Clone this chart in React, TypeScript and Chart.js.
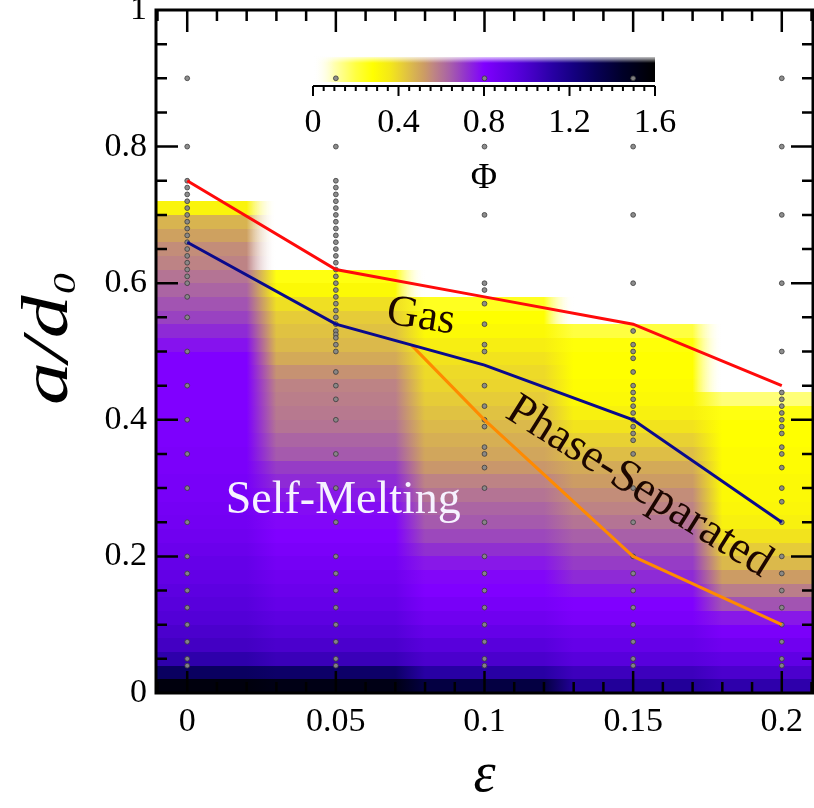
import React, { useEffect, useRef } from 'react';
import { Chart, registerables } from 'chart.js';

Chart.register(...registerables);

// ---------------- data ----------------
const epsCols = [0, 0.05, 0.1, 0.15, 0.2];
const aEdges = [0, 0.02, 0.04, 0.06, 0.08, 0.1, 0.12, 0.14, 0.16, 0.18, 0.2, 0.22, 0.24, 0.26, 0.28, 0.3, 0.32, 0.34, 0.36, 0.38, 0.4, 0.42, 0.44, 0.46, 0.48, 0.5, 0.52, 0.54, 0.56, 0.58, 0.6, 0.62, 0.64, 0.66, 0.68, 0.7, 0.72];

// Phi per row (bottom -> top), null = no data
const phiEps000 = [1.55, 1.3, 1.1, 1.03, 1.0, 0.97, 0.95, 0.93, 0.91, 0.9, 0.88, 0.86, 0.85, 0.84, 0.83, 0.83, 0.82, 0.82, 0.81, 0.81, 0.8, 0.8, 0.8, 0.8, 0.8, 0.77, 0.73, 0.69, 0.66, 0.63, 0.6, 0.57, 0.55, 0.51, 0.47, 0.32];
const phiEps005 = [1.52, 1.28, 1.06, 1.0, 0.96, 0.93, 0.9, 0.88, 0.86, 0.84, 0.82, 0.8, 0.79, 0.78, 0.76, 0.73, 0.7, 0.65, 0.63, 0.6, 0.59, 0.58, 0.57, 0.54, 0.49, 0.46, 0.44, 0.42, 0.38, 0.3, 0.26, null, null, null, null, null];
const phiEps010 = [1.38, 1.12, 1.0, 0.95, 0.9, 0.86, 0.83, 0.8, 0.79, 0.76, 0.72, 0.68, 0.65, 0.63, 0.6, 0.57, 0.53, 0.5, 0.48, 0.46, 0.44, 0.42, 0.4, 0.39, 0.37, 0.34, 0.3, 0.28, 0.24, null, null, null, null, null, null, null];
const phiEps015 = [1.15, 1.05, 0.95, 0.9, 0.87, 0.82, 0.8, 0.77, 0.73, 0.7, 0.67, 0.64, 0.6, 0.57, 0.55, 0.52, 0.49, 0.45, 0.41, 0.37, 0.33, 0.3, 0.29, 0.28, 0.28, 0.27, 0.2, null, null, null, null, null, null, null, null, null];
const phiEps020 = [1.1, 1.0, 0.92, 0.86, 0.82, 0.76, 0.66, 0.58, 0.52, 0.46, 0.42, 0.37, 0.33, 0.31, 0.3, 0.3, 0.29, 0.29, 0.28, 0.28, 0.26, 0.15, null, null, null, null, null, null, null, null, null, null, null, null, null, null];
const phiCols = [phiEps000, phiEps005, phiEps010, phiEps015, phiEps020];

// sampled state points (gray dots), a/d0 per column
const dotsEps000 = [0.9, 0.8, 0.75, 0.74, 0.73, 0.72, 0.71, 0.7, 0.69, 0.68, 0.67, 0.66, 0.65, 0.64, 0.63, 0.62, 0.61, 0.6, 0.58, 0.55, 0.5, 0.45, 0.4, 0.35, 0.3, 0.25, 0.2, 0.175, 0.15, 0.125, 0.1, 0.075, 0.05, 0.04];
const dotsEps005 = [0.9, 0.8, 0.75, 0.74, 0.73, 0.72, 0.71, 0.7, 0.69, 0.68, 0.67, 0.66, 0.65, 0.64, 0.63, 0.62, 0.61, 0.6, 0.59, 0.58, 0.57, 0.56, 0.55, 0.54, 0.53, 0.525, 0.52, 0.51, 0.5, 0.47, 0.45, 0.43, 0.4, 0.35, 0.3, 0.25, 0.2, 0.175, 0.15, 0.125, 0.1, 0.075, 0.05, 0.04];
const dotsEps010 = [0.9, 0.8, 0.7, 0.6, 0.59, 0.57, 0.54, 0.51, 0.5, 0.45, 0.42, 0.4, 0.39, 0.36, 0.35, 0.33, 0.3, 0.25, 0.2, 0.175, 0.15, 0.125, 0.1, 0.075, 0.05, 0.04];
const dotsEps015 = [0.9, 0.8, 0.7, 0.6, 0.53, 0.51, 0.5, 0.49, 0.47, 0.45, 0.44, 0.43, 0.42, 0.41, 0.4, 0.39, 0.38, 0.37, 0.35, 0.3, 0.25, 0.2, 0.175, 0.15, 0.125, 0.1, 0.075, 0.05, 0.04];
const dotsEps020 = [0.9, 0.8, 0.7, 0.6, 0.5, 0.44, 0.43, 0.42, 0.41, 0.4, 0.39, 0.38, 0.36, 0.35, 0.33, 0.3, 0.28, 0.25, 0.2, 0.175, 0.15, 0.125, 0.1, 0.075, 0.05, 0.04];
const dotCols = [dotsEps000, dotsEps005, dotsEps010, dotsEps015, dotsEps020];

// boundary lines
const lineEps = [0, 0.05, 0.1, 0.15, 0.2];
const redLine = [0.75, 0.62, 0.58, 0.54, 0.45];
const blueLine = [0.66, 0.54, 0.48, 0.4, 0.25];
const orangeEps = [0.0755, 0.1, 0.15, 0.2];
const orangeLine = [0.509, 0.4, 0.2, 0.1];

// annotations
const annoText = ['Gas', 'Phase-Separated', 'Self-Melting'];
const annoEps = [0.0786, 0.152, 0.0525];
const annoA = [0.5505, 0.3016, 0.281];

// ticks
const xTickVals = [0, 0.05, 0.1, 0.15, 0.2];
const yTickVals = [0, 0.2, 0.4, 0.6, 0.8, 1];
const cbTickVals = [0, 0.4, 0.8, 1.2, 1.6];

// colormap
const cmapVals = [0, 0.1, 0.2, 0.28, 0.36, 0.42, 0.47, 0.52, 0.56, 0.6, 0.64, 0.68, 0.72, 0.76, 0.8, 0.86, 0.92, 0.98, 1.04, 1.12, 1.22, 1.32, 1.45, 1.6];
const cmapRGBA = [
  [255, 255, 255, 0], [255, 255, 176, 1], [255, 255, 64, 1], [255, 255, 0, 1], [244, 232, 24, 1],
  [230, 204, 56, 1], [216, 180, 80, 1], [204, 156, 100, 1], [192, 136, 128, 1], [180, 116, 148, 1],
  [168, 96, 168, 1], [156, 72, 188, 1], [144, 48, 208, 1], [136, 24, 232, 1], [128, 0, 255, 1],
  [112, 0, 240, 1], [96, 0, 228, 1], [80, 0, 212, 1], [64, 0, 192, 1], [40, 0, 164, 1],
  [20, 0, 128, 1], [8, 0, 88, 1], [0, 0, 40, 1], [0, 0, 0, 1],
];

// ---------------- helpers ----------------
const FONT = "'Liberation Serif', 'Times New Roman', serif";
const rgba = (c: number[]) => `rgba(${Math.round(c[0])},${Math.round(c[1])},${Math.round(c[2])},${c[3]})`;
function cmap(v: number): number[] {
  if (v <= cmapVals[0]) return cmapRGBA[0];
  for (let i = 0; i < cmapVals.length - 1; i++) {
    if (v <= cmapVals[i + 1]) {
      const t = (v - cmapVals[i]) / (cmapVals[i + 1] - cmapVals[i]);
      const a = cmapRGBA[i], b = cmapRGBA[i + 1];
      return a.map((q, k) => q + (b[k] - q) * t);
    }
  }
  return cmapRGBA[cmapRGBA.length - 1];
}
const clamp01 = (v: number) => Math.max(0, Math.min(1, v));
const noPad = (s: any) => { s.paddingTop = 0; s.paddingBottom = 0; s.paddingLeft = 0; s.paddingRight = 0; };

const heatmapPlugin = {
  id: 'heatmap',
  beforeDatasetsDraw(chart: any) {
    const { ctx, chartArea: ca, scales } = chart;
    const x = scales.x, y = scales.y;
    const half = 0.025, blend = 0.005;
    ctx.save();
    ctx.beginPath();
    ctx.rect(ca.left, ca.top, ca.width, ca.height);
    ctx.clip();
    for (let r = 0; r < aEdges.length - 1; r++) {
      const yTop = Math.round(y.getPixelForValue(aEdges[r + 1]));
      const yBot = Math.round(y.getPixelForValue(aEdges[r]));
      const g = ctx.createLinearGradient(ca.left, 0, ca.right, 0);
      epsCols.forEach((e, i) => {
        const v = phiCols[i][r];
        const col = v == null ? 'rgba(255,255,255,0)' : rgba(cmap(v));
        const xs = i === 0 ? ca.left : x.getPixelForValue(e - half + blend);
        const xe = i === epsCols.length - 1 ? ca.right : x.getPixelForValue(e + half - blend);
        g.addColorStop(clamp01((xs - ca.left) / ca.width), col);
        g.addColorStop(clamp01((xe - ca.left) / ca.width), col);
      });
      ctx.fillStyle = g;
      ctx.fillRect(ca.left, yTop, ca.width, yBot - yTop);
    }
    ctx.restore();
  },
};

const annoPlugin = {
  id: 'anno',
  afterDatasetsDraw(chart: any) {
    const { ctx, scales } = chart;
    const styles = [
      { size: 44, angle: 9, color: '#1c0600' },
      { size: 46, angle: 32, color: '#1c0600' },
      { size: 46, angle: 0, color: '#f6f2ff' },
    ];
    annoText.forEach((t, i) => {
      const s = styles[i];
      ctx.save();
      ctx.translate(scales.x.getPixelForValue(annoEps[i]), scales.y.getPixelForValue(annoA[i]));
      ctx.rotate((s.angle * Math.PI) / 180);
      ctx.font = `${s.size}px ${FONT}`;
      ctx.fillStyle = s.color;
      ctx.textAlign = 'center';
      ctx.textBaseline = 'middle';
      ctx.fillText(t, 0, 0);
      ctx.restore();
    });
  },
};

const framePlugin = {
  id: 'frame',
  afterDraw(chart: any) {
    const { ctx, chartArea: ca, scales } = chart;
    const x = scales.x, y = scales.y;
    ctx.save();
    ctx.strokeStyle = '#000';
    ctx.lineWidth = 2.5;
    ctx.beginPath();
    for (let k = -1; k <= 21; k++) {
      const px = x.getPixelForValue(k * 0.01);
      if (px <= ca.left + 1 || px >= ca.right - 1) continue;
      const len = k % 5 === 0 ? 22 : 11;
      ctx.moveTo(px, ca.bottom); ctx.lineTo(px, ca.bottom - len);
      ctx.moveTo(px, ca.top); ctx.lineTo(px, ca.top + len);
    }
    for (let k = 1; k < 20; k++) {
      const py = y.getPixelForValue(k * 0.05);
      const len = k % 4 === 0 ? 22 : 11;
      ctx.moveTo(ca.left, py); ctx.lineTo(ca.left + len, py);
      ctx.moveTo(ca.right, py); ctx.lineTo(ca.right - len, py);
    }
    ctx.stroke();
    ctx.lineWidth = 3;
    ctx.strokeRect(ca.left, ca.top, ca.width, ca.height);

    // axis titles
    ctx.fillStyle = '#000';
    ctx.save();
    ctx.translate(ca.left - 89, ca.top + 395);
    ctx.rotate(-Math.PI / 2);
    ctx.scale(1.3, 1);
    ctx.textAlign = 'left';
    ctx.textBaseline = 'alphabetic';
    ctx.font = `italic 66px ${FONT}`;
    ctx.fillText('a/d', 0, 0);
    const w = ctx.measureText('a/d').width;
    ctx.font = `italic 32px ${FONT}`;
    ctx.fillText('0', w + 1, 8);
    ctx.restore();

    ctx.font = `italic 56px ${FONT}`;
    ctx.textAlign = 'center';
    ctx.textBaseline = 'alphabetic';
    ctx.fillText('ε', (ca.left + ca.right) / 2, ca.bottom + 98);
    ctx.restore();
  },
};

const colorbarPlugin = {
  id: 'cbar',
  afterDraw(chart: any) {
    const { ctx, chartArea: ca, scales } = chart;
    const x = scales.x;
    const barTop = ca.top, barBot = ca.bottom - 4;
    const g = ctx.createLinearGradient(ca.left, 0, ca.right, 0);
    cmapVals.forEach((v, i) => g.addColorStop(clamp01((x.getPixelForValue(v) - ca.left) / ca.width), rgba(cmapRGBA[i])));
    ctx.save();
    ctx.fillStyle = g;
    ctx.fillRect(ca.left, barTop, ca.width, barBot - barTop);
    const f = ctx.createLinearGradient(0, barTop - 1, 0, barTop + 6);
    f.addColorStop(0, 'rgba(255,255,255,0.9)');
    f.addColorStop(1, 'rgba(255,255,255,0)');
    ctx.fillStyle = f;
    ctx.fillRect(ca.left, barTop - 1, ca.width, 7);
    ctx.strokeStyle = '#000';
    ctx.lineWidth = 2;
    ctx.beginPath();
    ctx.moveTo(ca.left, ca.bottom); ctx.lineTo(ca.right, ca.bottom);
    for (let k = 0; k <= 32; k++) {
      const px = x.getPixelForValue(k * 0.05);
      const len = k % 8 === 0 ? 10 : 5;
      ctx.moveTo(px, ca.bottom); ctx.lineTo(px, ca.bottom + len);
    }
    ctx.stroke();
    ctx.restore();
  },
};

const fmt = (v: number, d: number) => String(Math.round(v * d) / d);

export default function App() {
  const mainRef = useRef<HTMLCanvasElement>(null);
  const cbRef = useRef<HTMLCanvasElement>(null);

  useEffect(() => {
    const tickFont = { family: FONT, size: 34 };
    const dotData = dotCols.flatMap((arr, i) => arr.map((a) => ({ x: epsCols[i], y: a })));
    const main = new Chart(mainRef.current!, {
      type: 'scatter',
      data: {
        datasets: [
          { data: lineEps.map((e, i) => ({ x: e, y: redLine[i] })), showLine: true, borderColor: '#ff0a0a', borderWidth: 3, pointRadius: 0, fill: false },
          { data: lineEps.map((e, i) => ({ x: e, y: blueLine[i] })), showLine: true, borderColor: '#0a0a8c', borderWidth: 3, pointRadius: 0, fill: false },
          { data: orangeEps.map((e, i) => ({ x: e, y: orangeLine[i] })), showLine: true, borderColor: '#ff8a00', borderWidth: 3, pointRadius: 0, fill: false },
          { data: dotData, pointRadius: 2.4, backgroundColor: 'rgba(135,135,135,0.95)', borderColor: 'rgba(60,60,60,0.9)', borderWidth: 0.9 },
        ],
      } as any,
      options: {
        animation: false,
        responsive: false,
        events: [],
        layout: { padding: { left: 0, top: 10, right: 1, bottom: 0 }, autoPadding: false },
        plugins: { legend: { display: false }, tooltip: { enabled: false } },
        scales: {
          x: {
            type: 'linear', min: -0.0105, max: 0.2105,
            grid: { display: false, drawTicks: false }, border: { display: false },
            afterBuildTicks: (s: any) => { s.ticks = xTickVals.map((v) => ({ value: v })); },
            afterFit: (s: any) => { s.height = 115; noPad(s); },
            ticks: { font: tickFont, color: '#000', padding: 9, maxRotation: 0, autoSkip: false, callback: (v: any) => fmt(v, 100) },
          },
          y: {
            type: 'linear', min: 0, max: 1,
            grid: { display: false, drawTicks: false }, border: { display: false },
            afterBuildTicks: (s: any) => { s.ticks = yTickVals.map((v) => ({ value: v })); },
            afterFit: (s: any) => { s.width = 156; noPad(s); },
            ticks: { font: tickFont, color: '#000', padding: 9, autoSkip: false, callback: (v: any) => fmt(v, 10) },
          },
        },
      } as any,
      plugins: [heatmapPlugin, annoPlugin, framePlugin],
    });

    const cb = new Chart(cbRef.current!, {
      type: 'scatter',
      data: { datasets: [] },
      options: {
        animation: false,
        responsive: false,
        events: [],
        layout: { padding: { left: 43, right: 55, top: 27, bottom: 0 }, autoPadding: false },
        plugins: { legend: { display: false }, tooltip: { enabled: false } },
        scales: {
          x: {
            type: 'linear', min: 0, max: 1.6,
            grid: { display: false, drawTicks: false }, border: { display: false },
            afterBuildTicks: (s: any) => { s.ticks = cbTickVals.map((v) => ({ value: v })); },
            afterFit: (s: any) => { s.height = 124; noPad(s); },
            ticks: { font: tickFont, color: '#000', padding: 16.6, maxRotation: 0, autoSkip: false, callback: (v: any) => fmt(v, 10) },
            title: { display: true, text: 'Φ', font: { family: FONT, size: 36 }, color: '#000', padding: { top: 0, bottom: 10 } },
          },
          y: { display: false, min: 0, max: 1 },
        },
      } as any,
      plugins: [colorbarPlugin],
    });

    return () => { main.destroy(); cb.destroy(); };
  }, []);

  return (
    <div style={{ position: 'fixed', left: 0, top: 0, width: 814, height: 808, background: '#fff' }}>
      <canvas ref={cbRef} width={440} height={180} style={{ position: 'absolute', left: 270, top: 30, width: 440, height: 180 }} />
      <canvas ref={mainRef} width={814} height={808} style={{ position: 'absolute', left: 0, top: 0, width: 814, height: 808 }} />
    </div>
  );
}
